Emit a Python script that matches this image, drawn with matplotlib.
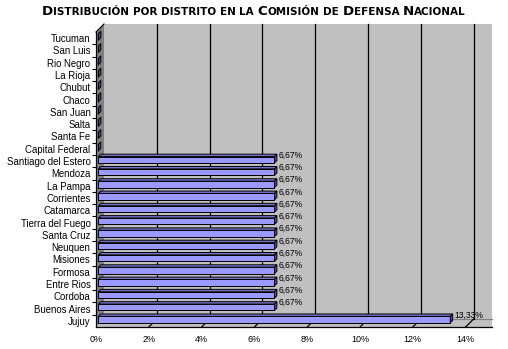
import matplotlib.pyplot as plt
from matplotlib.patches import Polygon

plt.rcParams["font.family"] = ["Liberation Sans", "DejaVu Sans"]

# data, bottom to top as drawn
provincias = ["Jujuy", "Buenos Aires", "Cordoba", "Entre Rios", "Formosa",
              "Misiones", "Neuquen", "Santa Cruz", "Tierra del Fuego",
              "Catamarca", "Corrientes", "La Pampa", "Mendoza",
              "Santiago del Estero", "Capital Federal", "Santa Fe", "Salta",
              "San Juan", "Chaco", "Chubut", "La Rioja", "Rio Negro",
              "San Luis", "Tucuman"]
porcentajes = [13.33] + [6.67] * 13 + [0.0] * 10
x_ticks = [0, 2, 4, 6, 8, 10, 12, 14]
titulo = "Distribución por distrito en la Comisión de Defensa Nacional"

W, H = 508, 349
fig = plt.figure(figsize=(W / 100, H / 100), dpi=100)
fig.patch.set_facecolor("white")

# front plane of the 3D box, in pixels
left, bottom, width, height = 96, 22, 396, 295
ax = fig.add_axes([left / W, bottom / H, width / W, height / H])
xmax = 15.0
n = len(provincias)
ax.set_xlim(0, xmax)
ax.set_ylim(0, n)
ax.patch.set_visible(False)

# depth offset (8 px) in data units
dx = 8 / (width / xmax)
dy = 8 / (height / n)

wall = "#c0c0c0"
side = "#808080"
# back wall
ax.add_patch(Polygon([(dx, dy), (xmax, dy), (xmax, n + dy), (dx, n + dy)],
                     closed=True, fc=wall, ec="none", clip_on=False, zorder=0))
# floor
ax.add_patch(Polygon([(0, 0), (xmax, 0), (xmax, dy), (dx, dy)],
                     closed=True, fc=wall, ec="none", clip_on=False, zorder=0))
ax.plot([dx, xmax], [dy, dy], color="#808080", lw=0.8, clip_on=False, zorder=1)
# side wall
ax.add_patch(Polygon([(0, 0), (dx, dy), (dx, n + dy), (0, n)],
                     closed=True, fc=side, ec="none", clip_on=False, zorder=1))
ax.plot([0, dx], [n, n + dy], color="black", lw=0.8, clip_on=False, zorder=2)

# gridlines on back wall + floor
for t in x_ticks[1:]:
    ax.plot([t + dx, t + dx], [dy, n + dy], color="black", lw=0.9,
            clip_on=False, zorder=1)
    ax.plot([t, t + dx], [0, dy], color="black", lw=0.9,
            clip_on=False, zorder=1)

# bars
f1, f2 = 0.3, 0.6
h = 0.52
y0 = [i + 0.15 for i in range(n)]
front_c = "#9999ff"
top_c = "#7373c8"
end_c = "#4d4d8a"
ax.barh([y + h / 2 + dy * f1 for y in y0], porcentajes, height=h,
        left=dx * f1, color=front_c, edgecolor="black", linewidth=0.7,
        zorder=3, clip_on=False)
ox, oy = dx * (f2 - f1), dy * (f2 - f1)
for y, v in zip(y0, porcentajes):
    xs = dx * f1
    ys = y + dy * f1
    if v > 0:
        ax.add_patch(Polygon([(xs, ys + h), (xs + v, ys + h),
                              (xs + v + ox, ys + h + oy), (xs + ox, ys + h + oy)],
                             closed=True, fc=top_c, ec="black", lw=0.7,
                             zorder=3, clip_on=False))
    ax.add_patch(Polygon([(xs + v, ys), (xs + v, ys + h),
                          (xs + v + ox, ys + h + oy), (xs + v + ox, ys + oy)],
                         closed=True, fc=end_c, ec="black", lw=0.7,
                         zorder=3, clip_on=False))
    if v > 0:
        ax.text(xs + v + ox + 0.05, y + 0.45 + dy * f2,
                f"{v:.2f}%".replace(".", ","), fontsize=6.2,
                va="center", ha="left", zorder=4)

# axes, ticks, labels
for s in ["top", "right"]:
    ax.spines[s].set_visible(False)
ax.spines["left"].set_linewidth(0.9)
ax.spines["bottom"].set_linewidth(0.9)
ax.spines["bottom"].set_zorder(5)
ax.set_yticks([i + 0.5 for i in range(n)])
ax.set_yticklabels(provincias, fontsize=6.9)
ax.set_yticks(range(1, n), minor=True)
ax.tick_params(axis="y", which="major", length=0, pad=4)
ax.tick_params(axis="y", which="minor", length=3, width=0.8, direction="out")
ax.set_xticks(x_ticks)
ax.set_xticklabels([f"{t}%" for t in x_ticks], fontsize=6.5)
ax.tick_params(axis="x", length=0, pad=6)

# small-caps title
renderer = fig.canvas.get_renderer()
big, small = 9.6, 7.5
pieces = []
for word in titulo.split(" "):
    if word[0].isupper():
        pieces.append((word[0], big))
        rest = word[1:]
    else:
        rest = word
    if rest:
        pieces.append((rest.upper(), small))
    pieces.append((None, small))
pieces = pieces[:-1]
texts = []
x = 0.0
for s, size in pieces:
    if s is None:
        x += size * 100 / 72 * 0.35
        continue
    t = fig.text(0, 0, s, fontsize=size, fontweight="bold",
                 family="DejaVu Sans", va="baseline", ha="left")
    w = t.get_window_extent(renderer).width
    texts.append((t, x))
    x += w
start = 254 - x / 2
for t, off in texts:
    t.set_position(((start + off) / W, (H - 15) / H))

fig.savefig("out.png", dpi=100)
